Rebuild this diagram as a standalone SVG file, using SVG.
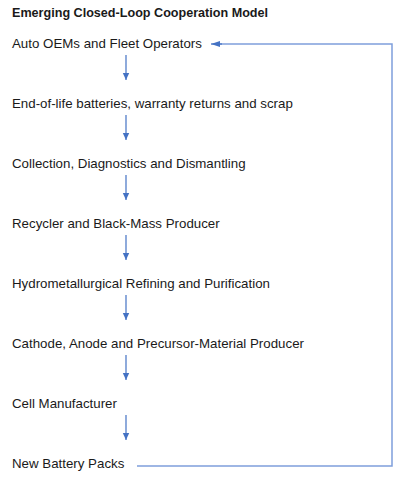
<svg xmlns="http://www.w3.org/2000/svg" width="401" height="484" viewBox="0 0 401 484">
<defs>
<style>
text{font-family:"Liberation Sans",Arial,sans-serif;font-size:13.3px;fill:#1a1a1a}
.title{font-weight:bold;font-size:12.6px}
.arr{stroke:#4472C4;stroke-width:1.2;fill:none}
.loop{stroke:#7f9fdc;stroke-width:1.5;fill:none}
</style>
<marker id="ah" markerWidth="8" markerHeight="8" refX="7" refY="4" orient="auto" markerUnits="userSpaceOnUse">
<path d="M0,0.8 L7,4 L0,7.2 Z" fill="#4472C4"/>
</marker>
<marker id="ah2" markerWidth="10" markerHeight="8" refX="9" refY="4" orient="auto" markerUnits="userSpaceOnUse">
<path d="M0,1 L9,4 L0,7 Z" fill="#4472C4"/>
</marker>
</defs>
<rect width="401" height="484" fill="#fff"/>
<text class="title" x="12" y="17">Emerging Closed-Loop Cooperation Model</text>
<g id="n1"><text x="12" y="48">Auto OEMs and Fleet Operators</text></g>
<g id="n2"><text x="12" y="108">End-of-life batteries, warranty returns and scrap</text></g>
<g id="n3"><text x="12" y="168">Collection, Diagnostics and Dismantling</text></g>
<g id="n4"><text x="12" y="228">Recycler and Black-Mass Producer</text></g>
<g id="n5"><text x="12" y="288">Hydrometallurgical Refining and Purification</text></g>
<g id="n6"><text x="12" y="348">Cathode, Anode and Precursor-Material Producer</text></g>
<g id="n7"><text x="12" y="408">Cell Manufacturer</text></g>
<g id="n8"><text x="12" y="468">New Battery Packs</text></g>
<g id="connectors">
<line class="arr" x1="126" y1="55" x2="126" y2="80" marker-end="url(#ah)"/>
<line class="arr" x1="126" y1="115" x2="126" y2="140" marker-end="url(#ah)"/>
<line class="arr" x1="126" y1="175" x2="126" y2="200" marker-end="url(#ah)"/>
<line class="arr" x1="126" y1="235" x2="126" y2="260" marker-end="url(#ah)"/>
<line class="arr" x1="126" y1="295" x2="126" y2="320" marker-end="url(#ah)"/>
<line class="arr" x1="126" y1="355" x2="126" y2="380" marker-end="url(#ah)"/>
<line class="arr" x1="126" y1="415" x2="126" y2="440" marker-end="url(#ah)"/>
<polyline class="loop" points="137,466 392,466 392,44 216,44"/>
<line class="arr" x1="222" y1="44" x2="211" y2="44" marker-end="url(#ah2)"/>
</g>
</svg>
